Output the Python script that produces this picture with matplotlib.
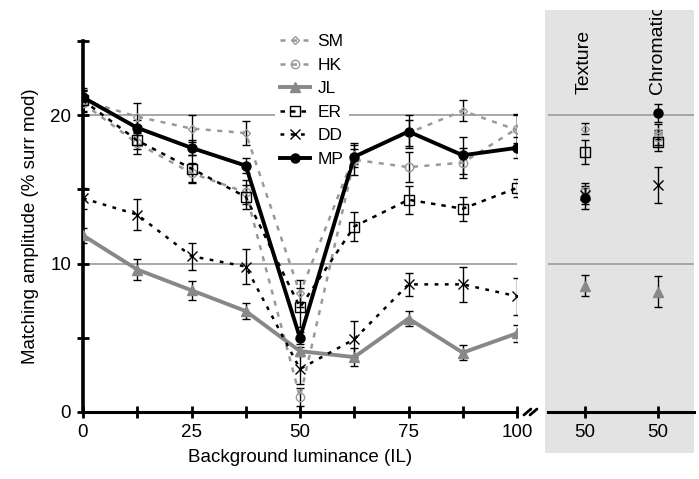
import matplotlib
matplotlib.use("Agg")
import matplotlib.pyplot as plt
from matplotlib.patches import Rectangle
from matplotlib.lines import Line2D

plt.rcParams['font.family'] = ['Liberation Sans', 'DejaVu Sans']

# ---- data ----
lum = [0, 12.5, 25, 37.5, 50, 62.5, 75, 87.5, 100]
xtick_labels = ['0', '', '25', '', '50', '', '75', '', '100']
observers = ['SM', 'HK', 'JL', 'ER', 'DD', 'MP']

sm = [21.0, 19.9, 19.1, 18.8, 8.0, 17.3, 18.8, 20.3, 19.0]
sm_err = [0.8, 0.9, 0.9, 0.8, 0.9, 0.8, 0.9, 0.7, 1.0]
hk = [20.8, 18.1, 16.1, 14.8, 1.0, 17.0, 16.5, 16.8, 19.1]
hk_err = [0.8, 0.7, 0.7, 0.8, 0.6, 1.0, 1.0, 1.0, 1.0]
jl = [11.9, 9.6, 8.2, 6.8, 4.1, 3.7, 6.3, 4.0, 5.3]
jl_err = [0.5, 0.7, 0.65, 0.55, 0.3, 0.6, 0.5, 0.5, 0.55]
er = [21.0, 18.3, 16.4, 14.5, 7.05, 12.5, 14.3, 13.7, 15.1]
er_err = [0.7, 0.6, 0.9, 0.8, 1.3, 1.0, 0.95, 0.8, 0.6]
dd = [14.4, 13.3, 10.5, 9.8, 2.9, 4.9, 8.6, 8.6, 7.8]
dd_err = [0.7, 1.05, 0.9, 1.2, 1.0, 1.2, 0.8, 1.2, 1.25]
mp = [21.2, 19.15, 17.8, 16.6, 5.0, 17.2, 18.9, 17.3, 17.8]
mp_err = [0.5, 0.5, 0.5, 0.5, 0.4, 0.5, 1.1, 1.25, 0.7]

cond_labels = ['Texture', 'Chromatic']
cond_ticks = ['50', '50']
cond_sm = [19.1, 18.9]
cond_sm_err = [0.4, 0.5]
cond_hk = [14.9, 18.5]
cond_hk_err = [0.5, 0.5]
cond_jl = [8.5, 8.1]
cond_jl_err = [0.7, 1.05]
cond_er = [17.5, 18.2]
cond_er_err = [0.8, 0.6]
cond_dd = [14.6, 15.3]
cond_dd_err = [0.6, 1.2]
cond_mp = [14.4, 20.15]
cond_mp_err = [0.7, 0.6]

LG = '#999999'
JLG = '#888888'
styles = {
    'SM': dict(color=LG, ls=(0, (2.0, 2.6)), lw=1.8, marker='D', ms=4.5, mfc='none', mec=LG, mew=1.0),
    'HK': dict(color=LG, ls=(0, (2.0, 2.6)), lw=1.8, marker='o', ms=6, mfc='none', mec=LG, mew=1.0),
    'JL': dict(color=JLG, ls='-', lw=2.8, marker='^', ms=7, mfc=JLG, mec=JLG),
    'ER': dict(color='black', ls=(0, (1.8, 2.4)), lw=1.8, marker='s', ms=6.5, mfc='none', mec='black', mew=1.0),
    'DD': dict(color='black', ls=(0, (1.5, 2.6)), lw=1.8, marker='x', ms=7, mec='black', mew=1.0),
    'MP': dict(color='black', ls='-', lw=2.8, marker='o', ms=6.5, mfc='black', mec='black'),
}
main_data = {'SM': (sm, sm_err), 'HK': (hk, hk_err), 'JL': (jl, jl_err),
             'ER': (er, er_err), 'DD': (dd, dd_err), 'MP': (mp, mp_err)}
cond_data = {'SM': (cond_sm, cond_sm_err), 'HK': (cond_hk, cond_hk_err), 'JL': (cond_jl, cond_jl_err),
             'ER': (cond_er, cond_er_err), 'DD': (cond_dd, cond_dd_err), 'MP': (cond_mp, cond_mp_err)}

W, H = 699, 479
fig = plt.figure(figsize=(W / 100, H / 100), dpi=100)

# gray panel behind the condition axes
panel = Rectangle((545 / W, 1 - 453 / H), 149 / W, 443 / H,
                  transform=fig.transFigure, facecolor='#e3e3e3',
                  edgecolor='none', zorder=-5)
fig.patches.append(panel)

ax = fig.add_axes([83 / W, 1 - 412 / H, (517 - 83) / W, 371 / H])
ax.set_zorder(2)
ax.set_facecolor('none')
ax.set_xlim(0, 100)
ax.set_ylim(0, 25)
for y in (10, 20):
    ax.axhline(y, color='#9a9a9a', lw=1.2, zorder=1)

for name in observers:
    vals, errs = main_data[name]
    ax.errorbar(lum, vals, yerr=errs, fmt='none', ecolor='black', elinewidth=1.0,
                capsize=3, capthick=1.0, zorder=3)
handles = []
for name in observers:
    vals, errs = main_data[name]
    l, = ax.plot(lum, vals, label=name, zorder=4, **styles[name])
    handles.append(l)

for s in ('top', 'right'):
    ax.spines[s].set_visible(False)
ax.spines['left'].set_linewidth(2.6)
ax.spines['bottom'].set_linewidth(2.2)
ax.set_xticks(lum)
ax.set_xticklabels(xtick_labels)
ax.set_yticks([0, 5, 10, 15, 20, 25])
ax.set_yticklabels(['0', '', '10', '', '20', ''])
ax.tick_params(direction='inout', length=9, width=2, labelsize=13.5, pad=4)
ax.set_xlabel('Background luminance (IL)', fontsize=13.5, labelpad=6)
ax.set_ylabel('Matching amplitude (% surr mod)', fontsize=13.5, labelpad=8)

# axis break marks
for dx in (0.024, 0.038):
    ax.plot([1 + dx - 0.008, 1 + dx + 0.008], [-0.008, 0.008], transform=ax.transAxes,
            color='black', lw=2.0, clip_on=False, solid_capstyle='round')

leg = ax.legend(handles=handles, loc='upper left', bbox_to_anchor=(275 / W, 1 - 29 / H),
                bbox_transform=fig.transFigure, frameon=True, fontsize=12.5,
                handlelength=1.7, handletextpad=0.45, labelspacing=0.48,
                borderpad=0.3, borderaxespad=0)
leg.get_frame().set_facecolor('white')
leg.get_frame().set_edgecolor('none')
leg.get_frame().set_alpha(1)
leg.set_zorder(10)

# condition axes
ax2 = fig.add_axes([548 / W, 1 - 412 / H, (694 - 548) / W, 371 / H])
ax2.set_zorder(2)
ax2.set_facecolor('none')
ax2.set_xlim(0.5, 2.5)
ax2.set_ylim(0, 25)
for y in (10, 20):
    ax2.axhline(y, color='#9a9a9a', lw=1.2, zorder=1)
xc = [1, 2]
for name in observers:
    vals, errs = cond_data[name]
    st = dict(styles[name])
    st['ls'] = 'none'
    ax2.errorbar(xc, vals, yerr=errs, fmt='none', ecolor='black', elinewidth=1.0,
                 capsize=3, capthick=1.0, zorder=3)
    ax2.plot(xc, vals, zorder=4, **st)
for s in ('top', 'right', 'left'):
    ax2.spines[s].set_visible(False)
ax2.spines['bottom'].set_linewidth(2.2)
ax2.set_yticks([])
ax2.set_xticks(xc)
ax2.set_xticklabels(cond_ticks)
ax2.tick_params(direction='inout', length=9, width=2, labelsize=13.5, pad=4)
for xi, lab in zip(xc, cond_labels):
    t = ax2.text(xi, (412 - 94) / 371, lab, transform=ax2.get_xaxis_transform(), rotation=90,
                 ha='center', va='bottom', fontsize=14, clip_on=True)
    t.set_clip_path(panel)

fig.savefig('out.png', dpi=100)
